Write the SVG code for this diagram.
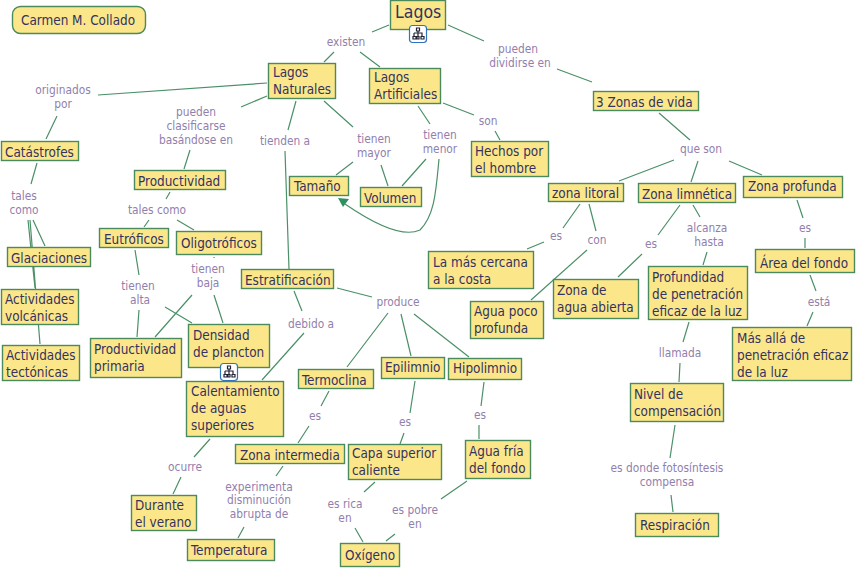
<svg xmlns="http://www.w3.org/2000/svg" width="856" height="569" viewBox="0 0 856 569">
<style>
.n rect{fill:#fce68a;stroke:#4a8a5c;stroke-width:1.4}
.n text{font-family:"DejaVu Sans Condensed","DejaVu Sans",sans-serif;font-stretch:condensed;font-size:13.4px;fill:#33335f}
.l text{font-family:"DejaVu Sans Condensed","DejaVu Sans",sans-serif;font-stretch:condensed;font-size:11.8px;fill:#9180ad;text-anchor:middle}
#connectors path{fill:none;stroke:#4a9068;stroke-width:1.2}
.i rect{fill:#fff;stroke:#2f74c0;stroke-width:1.2}
.i path{fill:none;stroke:#223;stroke-width:1.2}
</style>
<defs><g id="tree" class="i"><rect x="0.5" y="0.5" width="17" height="17" rx="3"/><path d="M9,6V8M5,8H13V11M5,8V11M9,8V11M4,11.500H7V14H4ZM8,11.500H10V14H8ZM12,11.500H15V14H12ZM7.500,3H10.500V6H7.500Z"/></g></defs>
<g id="connectors">
<path d="M98,95L267,83M57,116L46,139M37,163L31,184M267,96L241,107M190,150L184,169M296,101L288,130M285,151L289,269M389,25L372,32M334,52L324,62M360,52L380,67M448,25L484,41M557,69L592,82M324,101L353,127M353,162L336,175M381,165L388,186M418,106L430,124M426,159L402,186M443,103L474,115M495,131L500,140M659,113L690,140M674,160L619,181M698,161L691,182M729,161L762,175M580,204L563,228M544,242L527,249M589,204L596,231M587,250L531,300M680,205L658,235M642,254L618,277M693,205L700,217M707,252L703,265M797,200L803,218M805,238L805,248M810,275L816,291M813,312L807,326M689,322L683,342M680,363L679,382M675,425L670,458M671,495L673,512M33,220L45,246M28,220L35,288M30,220L40,344M170,192L166,199M149,220L144,227M177,220L194,230M135,250L139,275M139,310L137,337M165,307L192,323M214,257L214,258M192,295L155,337M214,295L223,323M294,291L302,311M304,333L262,380M337,288L372,297M388,313L347,367M401,314L411,356M414,314L469,357M210,439L194,457M181,477L173,494M329,391L321,406M309,426L298,443M283,466L276,476M244,527L238,538M415,381L410,413M404,433L400,444M484,382L481,406M479,425L479,439M375,482L364,492M355,528L363,542M467,481L441,499M395,534L386,541"/>
<path d="M439,159C436,190 435,215 420,230C405,237 380,228 345,204"/>
<polygon points="338,198 349,199 343,207" fill="#2f8f62"/>
</g>
<g class="l">
<text x="63" y="94">originados</text><text x="63" y="108">por</text>
<text x="346" y="46">existen</text>
<text x="518" y="53">pueden</text><text x="520" y="67">dividirse en</text>
<text x="196" y="116">pueden</text><text x="196" y="130">clasificarse</text><text x="196" y="144">basándose en</text>
<text x="285" y="145">tienden a</text>
<text x="374" y="143">tienen</text><text x="374" y="157">mayor</text>
<text x="440" y="139">tienen</text><text x="440" y="153">menor</text>
<text x="488" y="125">son</text>
<text x="701" y="153">que son</text>
<text x="24" y="200">tales</text><text x="24" y="214">como</text>
<text x="157" y="214">tales como</text>
<text x="138" y="290">tienen</text><text x="140" y="304">alta</text>
<text x="208" y="273">tienen</text><text x="208" y="287">baja</text>
<text x="311" y="328">debido a</text>
<text x="398" y="306">produce</text>
<text x="556" y="240">es</text><text x="597" y="244">con</text>
<text x="651" y="248">es</text>
<text x="707" y="232">alcanza</text><text x="709" y="246">hasta</text>
<text x="805" y="232">es</text>
<text x="819" y="306">está</text>
<text x="680" y="357">llamada</text>
<text x="667" y="472">es donde fotosíntesis</text><text x="667" y="486">compensa</text>
<text x="185" y="471">ocurre</text>
<text x="315" y="420">es</text>
<text x="259" y="491">experimenta</text><text x="259" y="504">disminución</text><text x="259" y="518">abrupta de</text>
<text x="405" y="426">es</text>
<text x="480" y="419">es</text>
<text x="345" y="508">es rica</text><text x="345" y="522">en</text>
<text x="415" y="514">es pobre</text><text x="415" y="528">en</text>
</g>
<g id="n-carmen" class="n"><rect x="12.500" y="6.500" width="133" height="27" rx="8"/><text x="21" y="25">Carmen M. Collado</text></g>
<g id="n-lagos" class="n"><rect x="390.500" y="0.500" width="55" height="29"/><text x="395" y="18" style="font-size:17.500px">Lagos</text></g>
<g id="n-naturales" class="n"><rect x="268.500" y="63.500" width="67" height="35"/><text x="273" y="77">Lagos</text><text x="273" y="94">Naturales</text></g>
<g id="n-artificiales" class="n"><rect x="369.500" y="68.500" width="71" height="35"/><text x="374" y="82">Lagos</text><text x="374" y="99">Artificiales</text></g>
<g id="n-hechos" class="n"><rect x="471.500" y="141.500" width="77" height="35"/><text x="475" y="156">Hechos por</text><text x="475" y="173">el hombre</text></g>
<g id="n-tamano" class="n"><rect x="289.500" y="176.500" width="59" height="19"/><text x="294" y="191">Tamaño</text></g>
<g id="n-volumen" class="n"><rect x="360.500" y="187.500" width="61" height="19"/><text x="364" y="203">Volumen</text></g>
<g id="n-catastrofes" class="n"><rect x="1.500" y="141.500" width="77" height="19"/><text x="5" y="157">Catástrofes</text></g>
<g id="n-productividad" class="n"><rect x="134.500" y="170.500" width="91" height="19"/><text x="138" y="186">Productividad</text></g>
<g id="n-eutroficos" class="n"><rect x="99.500" y="228.500" width="69" height="19"/><text x="104" y="244">Eutróficos</text></g>
<g id="n-oligotroficos" class="n"><rect x="176.500" y="231.500" width="85" height="23"/><text x="181" y="248">Oligotróficos</text></g>
<g id="n-glaciaciones" class="n"><rect x="7.500" y="247.500" width="83" height="19"/><text x="11" y="263">Glaciaciones</text></g>
<g id="n-volcanicas" class="n"><rect x="1.500" y="289.500" width="77" height="35"/><text x="5" y="304">Actividades</text><text x="5" y="321">volcánicas</text></g>
<g id="n-tectonicas" class="n"><rect x="2.500" y="345.500" width="77" height="35"/><text x="6" y="360">Actividades</text><text x="6" y="377">tectónicas</text></g>
<g id="n-primaria" class="n"><rect x="90.500" y="338.500" width="91" height="39"/><text x="94" y="354">Productividad</text><text x="94" y="371">primaria</text></g>
<g id="n-densidad" class="n"><rect x="188.500" y="324.500" width="81" height="43"/><text x="193" y="340">Densidad</text><text x="193" y="357">de plancton</text></g>
<g id="n-estratificacion" class="n"><rect x="241.500" y="269.500" width="92" height="19"/><text x="245" y="285">Estratificación</text></g>
<g id="n-calentamiento" class="n"><rect x="186.500" y="381.500" width="97" height="55"/><text x="191" y="396">Calentamiento</text><text x="191" y="413">de aguas</text><text x="191" y="430">superiores</text></g>
<g id="n-termoclina" class="n"><rect x="298.500" y="369.500" width="75" height="19"/><text x="302" y="385">Termoclina</text></g>
<g id="n-epilimnio" class="n"><rect x="381.500" y="357.500" width="63" height="21"/><text x="385" y="372">Epilimnio</text></g>
<g id="n-hipolimnio" class="n"><rect x="448.500" y="358.500" width="73" height="21"/><text x="453" y="373">Hipolimnio</text></g>
<g id="n-intermedia" class="n"><rect x="235.500" y="444.500" width="109" height="19"/><text x="240" y="460">Zona intermedia</text></g>
<g id="n-capa" class="n"><rect x="348.500" y="444.500" width="93" height="35"/><text x="352" y="458">Capa superior</text><text x="352" y="475">caliente</text></g>
<g id="n-aguafria" class="n"><rect x="465.500" y="440.500" width="65" height="38"/><text x="469" y="456">Agua fría</text><text x="469" y="473">del fondo</text></g>
<g id="n-durante" class="n"><rect x="131.500" y="495.500" width="65" height="35"/><text x="135" y="510">Durante</text><text x="135" y="527">el verano</text></g>
<g id="n-temperatura" class="n"><rect x="187.500" y="539.500" width="87" height="21"/><text x="191" y="555">Temperatura</text></g>
<g id="n-oxigeno" class="n"><rect x="340.500" y="543.500" width="59" height="23"/><text x="345" y="560">Oxígeno</text></g>
<g id="n-cercana" class="n"><rect x="428.500" y="251.500" width="105" height="37"/><text x="433" y="267">La más cercana</text><text x="433" y="284">a la costa</text></g>
<g id="n-poco" class="n"><rect x="470.500" y="301.500" width="73" height="37"/><text x="474" y="316">Agua poco</text><text x="474" y="333">profunda</text></g>
<g id="n-abierta" class="n"><rect x="553.500" y="279.500" width="85" height="39"/><text x="557" y="295">Zona de</text><text x="557" y="312">agua abierta</text></g>
<g id="n-profundidad" class="n"><rect x="648.500" y="266.500" width="99" height="53"/><text x="652" y="282">Profundidad</text><text x="652" y="299">de penetración</text><text x="652" y="316">eficaz de la luz</text></g>
<g id="n-nivel" class="n"><rect x="630.500" y="383.500" width="93" height="38"/><text x="634" y="399">Nivel de</text><text x="634" y="416">compensación</text></g>
<g id="n-zonas" class="n"><rect x="593.500" y="91.500" width="105" height="19"/><text x="596" y="107">3 Zonas de vida</text></g>
<g id="n-litoral" class="n"><rect x="548.500" y="183.500" width="75" height="18"/><text x="552" y="198">zona litoral</text></g>
<g id="n-limnetica" class="n"><rect x="638.500" y="183.500" width="97" height="19"/><text x="642" y="199">Zona limnética</text></g>
<g id="n-zprofunda" class="n"><rect x="743.500" y="176.500" width="99" height="21"/><text x="748" y="191">Zona profunda</text></g>
<g id="n-area" class="n"><rect x="755.500" y="249.500" width="99" height="23"/><text x="760" y="268">Área del fondo</text></g>
<g id="n-masalla" class="n"><rect x="732.500" y="327.500" width="119" height="53"/><text x="737" y="343">Más allá de</text><text x="737" y="360">penetración eficaz</text><text x="737" y="377">de la luz</text></g>
<g id="n-respiracion" class="n"><rect x="635.500" y="513.500" width="83" height="23"/><text x="640" y="530">Respiración</text></g>
<use href="#tree" x="409" y="25"/>
<use href="#tree" x="220" y="363"/>
</svg>
